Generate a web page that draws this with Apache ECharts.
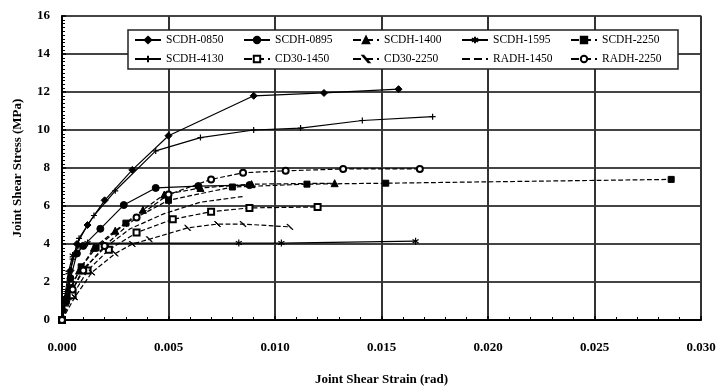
<!DOCTYPE html>
<html>
<head>
<meta charset="utf-8">
<script src="https://cdn.jsdelivr.net/npm/echarts@6/dist/echarts.min.js"></script>
<style>
  html, body { margin: 0; padding: 0; background: #fff; }
  #chart { width: 721px; height: 388px; }
</style>
</head>
<body>
<div id="chart"></div>
<script>
// Joint shear stress vs. joint shear strain for each specimen: [strain (rad), stress (MPa)]
const SCDH_0850 = [[0,0],[0.0002,1.2],[0.0004,2.6],[0.0007,4.0],[0.0012,5.0],[0.002,6.3],[0.0033,7.9],[0.005,9.7],[0.009,11.8],[0.0123,11.95],[0.0158,12.15]];
const SCDH_0895 = [[0,0],[0.0002,1.0],[0.0004,2.2],[0.0007,3.5],[0.001,3.9],[0.0018,4.8],[0.0029,6.05],[0.0044,6.95],[0.0064,7.05],[0.0088,7.1]];
const SCDH_1400 = [[0,0],[0.0003,1.3],[0.0008,2.6],[0.0015,3.8],[0.0025,4.7],[0.0038,5.8],[0.0048,6.6],[0.0065,6.95],[0.0089,7.15],[0.0128,7.2]];
const SCDH_1595 = [[0,0],[0.0001,1.0],[0.0003,2.5],[0.0005,3.4],[0.0008,3.9],[0.0012,4.05],[0.0083,4.05],[0.0103,4.05],[0.0166,4.15]];
const SCDH_2250 = [[0,0],[0.0004,1.7],[0.0009,2.8],[0.0016,3.8],[0.003,5.1],[0.005,6.3],[0.008,7.0],[0.0115,7.15],[0.0152,7.2],[0.0286,7.4]];
const SCDH_4130 = [[0,0],[0.0002,1.5],[0.0005,3.2],[0.0008,4.3],[0.0015,5.5],[0.0025,6.8],[0.0044,8.9],[0.0065,9.6],[0.009,10.0],[0.0112,10.1],[0.0141,10.5],[0.0174,10.7]];
const CD30_1450 = [[0,0],[0.0005,1.3],[0.0012,2.6],[0.0022,3.7],[0.0035,4.6],[0.0052,5.3],[0.007,5.7],[0.0088,5.9],[0.012,5.95]];
const CD30_2250 = [[0,0],[0.0006,1.2],[0.0014,2.5],[0.0025,3.5],[0.0033,4.0],[0.0041,4.25],[0.0059,4.85],[0.0073,5.05],[0.0085,5.05],[0.0107,4.9]];
const RADH_1450 = [[0,0],[0.0004,1.4],[0.001,2.7],[0.002,3.8],[0.0032,4.8],[0.0048,5.6],[0.0065,6.2],[0.0085,6.5]];
const RADH_2250 = [[0,0],[0.0005,1.6],[0.001,2.6],[0.002,3.9],[0.0035,5.4],[0.005,6.6],[0.007,7.4],[0.0085,7.75],[0.0105,7.85],[0.0132,7.95],[0.0168,7.95]];

const seriesNames = ['SCDH-0850','SCDH-0895','SCDH-1400','SCDH-1595','SCDH-2250',
                     'SCDH-4130','CD30-1450','CD30-2250','RADH-1450','RADH-2250'];
const seriesData = [SCDH_0850, SCDH_0895, SCDH_1400, SCDH_1595, SCDH_2250,
                    SCDH_4130, CD30_1450, CD30_2250, RADH_1450, RADH_2250];

// Axis ranges and tick spacing
const xMin = 0, xMax = 0.03, xStep = 0.005;
const yMin = 0, yMax = 16, yStep = 2;

const asterisk = 'path://M0,-5L0,5M-4.3,-2.5L4.3,2.5M-4.3,2.5L4.3,-2.5';
const plusMark = 'path://M0,-4L0,4M-4,0L4,0';
const slashMark = 'path://M-3,-3L3,3L2,3L-4,-3Z';

// line type / marker per specimen
const styles = {
  'SCDH-0850': { type: 'solid',  symbol: 'diamond',     size: 7 },
  'SCDH-0895': { type: 'solid',  symbol: 'circle',      size: 7 },
  'SCDH-1400': { type: 'dashed', symbol: 'triangle',    size: 7 },
  'SCDH-1595': { type: 'solid',  symbol: asterisk,      size: 7, empty: true },
  'SCDH-2250': { type: 'dashed', symbol: 'rect',        size: 6 },
  'SCDH-4130': { type: 'solid',  symbol: plusMark,      size: 6, empty: true },
  'CD30-1450': { type: 'dashed', symbol: 'emptyRect',   size: 6 },
  'CD30-2250': { type: 'dashed', symbol: slashMark,     size: 6 },
  'RADH-1450': { type: 'dashed', symbol: 'none',        size: 0 },
  'RADH-2250': { type: 'dashed', symbol: 'emptyCircle', size: 6 }
};

const serif = 'Liberation Serif, Times New Roman, serif';

const series = seriesNames.map((name, i) => {
  const s = styles[name];
  return {
    name: name,
    type: 'line',
    data: seriesData[i],
    showSymbol: s.symbol !== 'none',
    symbol: s.symbol,
    symbolSize: s.size,
    symbolKeepAspect: true,
    lineStyle: { color: '#000', width: 1.2, type: s.type },
    itemStyle: s.empty ? { color: '#fff', borderColor: '#000', borderWidth: 1.2 }
                       : { color: '#000', borderColor: '#000', borderWidth: 1 },
    emphasis: { disabled: true },
    animation: false,
    z: 3
  };
});

// legend entries; the marker-less specimen shows only its dashed line
const legendData = seriesNames.map(name =>
  styles[name].symbol === 'none'
    ? { name: name, itemStyle: { color: 'rgba(0,0,0,0)', borderColor: 'rgba(0,0,0,0)', opacity: 0 } }
    : { name: name });

const chart = echarts.init(document.getElementById('chart'), null, { renderer: 'canvas' });
chart.setOption({
  backgroundColor: '#fff',
  animation: false,
  grid: {
    left: 62, right: 20, top: 16, bottom: 68,
    outerBoundsMode: 'none', containLabel: false,
    show: true, borderColor: '#888', borderWidth: 1.5
  },
  legend: {
    data: legendData,
    left: 128, top: 30,
    width: 540,
    orient: 'horizontal',
    itemWidth: 26, itemHeight: 8,
    itemGap: 5,
    symbolKeepAspect: true,
    padding: [3, 4, 3, 6],
    backgroundColor: '#fff',
    borderColor: '#222',
    borderWidth: 1.5,
    borderRadius: 0,
    textStyle: { fontFamily: serif, fontSize: 11.5, color: '#000', width: 72, lineHeight: 14 },
    z: 10
  },
  xAxis: {
    type: 'value',
    min: xMin, max: xMax, interval: xStep,
    name: 'Joint Shear Strain (rad)',
    nameLocation: 'middle', nameGap: 53,
    nameTextStyle: { fontFamily: serif, fontWeight: 'bold', fontSize: 13, color: '#000' },
    axisLine: { show: true, lineStyle: { color: '#000', width: 2 } },
    axisTick: { show: true, inside: true, length: 4, lineStyle: { color: '#000', width: 1.5 } },
    minorTick: { show: true, splitNumber: 5, length: 3, lineStyle: { color: '#000', width: 1 } },
    axisLabel: {
      fontFamily: serif, fontWeight: 'bold', fontSize: 13, color: '#000', margin: 21,
      formatter: v => v.toFixed(3)
    },
    splitLine: { show: true, lineStyle: { color: '#333', width: 2 } }
  },
  yAxis: {
    type: 'value',
    min: yMin, max: yMax, interval: yStep,
    name: 'Joint Shear Stress (MPa)',
    nameLocation: 'middle', nameGap: 38, nameRotate: 90,
    nameTextStyle: { fontFamily: serif, fontWeight: 'bold', fontSize: 13, color: '#000' },
    axisLine: { show: true, lineStyle: { color: '#000', width: 2 } },
    axisTick: { show: true, inside: true, length: 4, lineStyle: { color: '#000', width: 1.5 } },
    minorTick: { show: true, splitNumber: 10, length: 3, lineStyle: { color: '#000', width: 1 } },
    axisLabel: { fontFamily: serif, fontWeight: 'bold', fontSize: 13, color: '#000', margin: 12 },
    splitLine: { show: true, lineStyle: { color: '#444', width: 1.8 } }
  },
  series: series
});
</script>
</body>
</html>
